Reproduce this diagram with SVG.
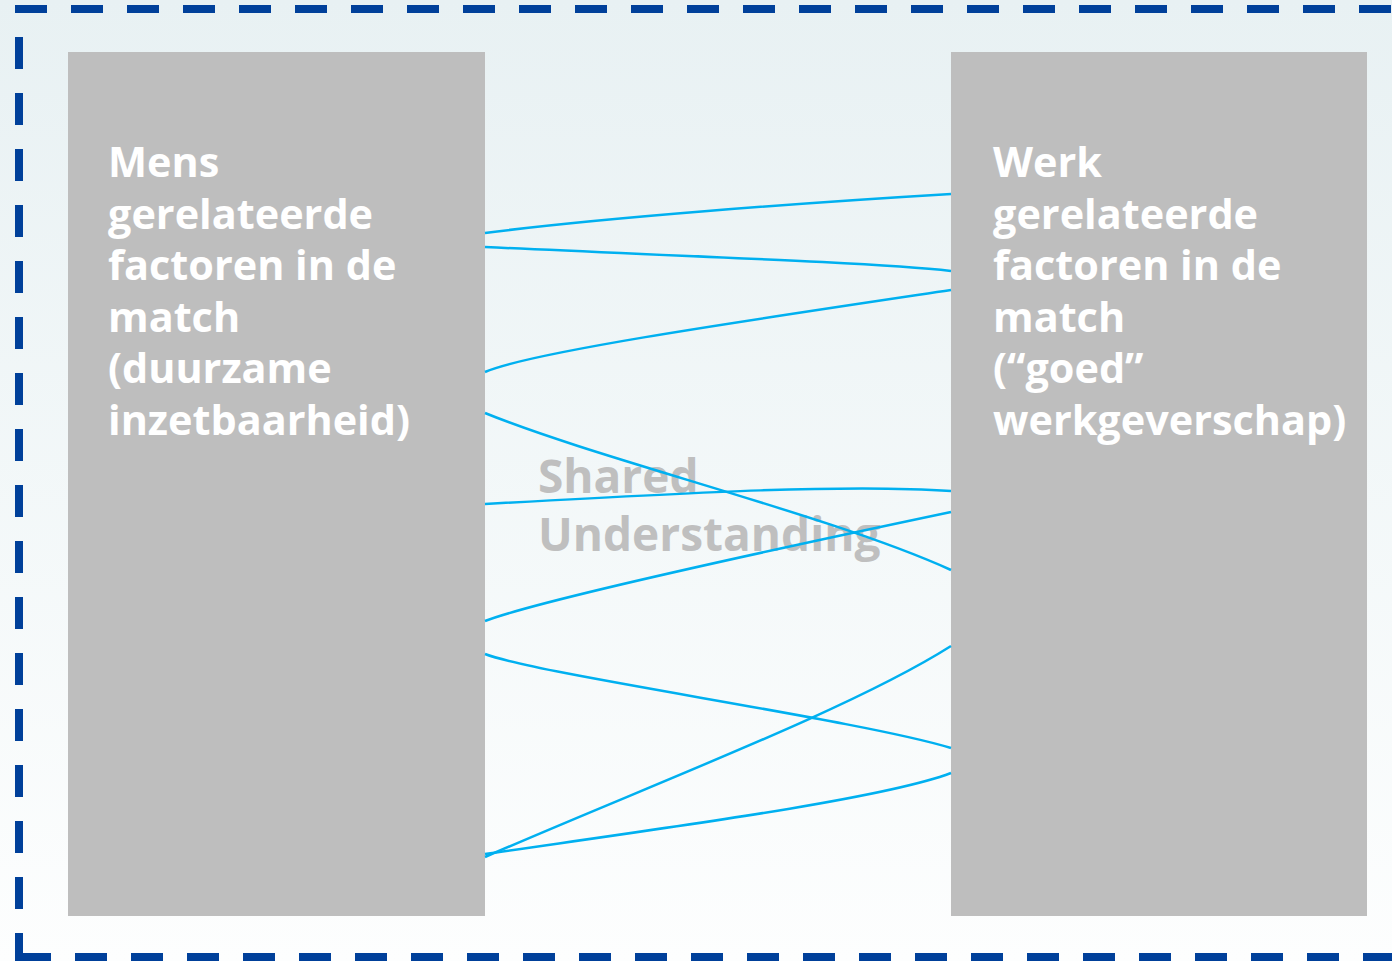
<svg xmlns="http://www.w3.org/2000/svg" width="1392" height="961" viewBox="0 0 1392 961">
  <defs>
    <linearGradient id="bg" x1="0" y1="0" x2="0" y2="1">
      <stop offset="0" stop-color="#E8F1F3"/>
      <stop offset="1" stop-color="#FDFEFE"/>
    </linearGradient>
    <style>
      .frame { stroke: #00409A; stroke-width: 8; fill: none; stroke-dasharray: 32 24; }
      .box { fill: #BEBEBE; }
      .label { font-family: "Open Sans", "Liberation Sans", sans-serif; font-weight: 700; font-size: 41.4px; fill: #FFFFFF; }
      .center { font-family: "Open Sans", "Liberation Sans", sans-serif; font-weight: 700; font-size: 46px; fill: #BFBFBF; }
      .link { fill: none; stroke: #00B0F0; stroke-width: 2.5; }
    </style>
  </defs>

  <!-- background -->
  <rect x="0" y="0" width="1392" height="961" fill="url(#bg)"/>

  <!-- dashed frame -->
  <g id="frame">
    <line class="frame" x1="15" y1="9" x2="1400" y2="9"/>
    <line class="frame" x1="19" y1="37" x2="19" y2="961"/>
    <line class="frame" x1="19" y1="957" x2="1400" y2="957"/>
  </g>

  <!-- left node -->
  <g id="node-mens">
    <rect class="box" x="68" y="52" width="417" height="864"/>
    <text class="label" x="108" y="177">
      <tspan x="108" y="177">Mens</tspan>
      <tspan x="108" y="228.5">gerelateerde</tspan>
      <tspan x="108" y="280">factoren in de</tspan>
      <tspan x="108" y="331.5">match</tspan>
      <tspan x="108" y="383">(duurzame</tspan>
      <tspan x="108" y="434.5">inzetbaarheid)</tspan>
    </text>
  </g>

  <!-- right node -->
  <g id="node-werk">
    <rect class="box" x="951" y="52" width="416" height="864"/>
    <text class="label" x="993" y="177">
      <tspan x="993" y="177">Werk</tspan>
      <tspan x="993" y="228.5">gerelateerde</tspan>
      <tspan x="993" y="280">factoren in de</tspan>
      <tspan x="993" y="331.5">match</tspan>
      <tspan x="993" y="383">(“goed”</tspan>
      <tspan x="993" y="434.5">werkgeverschap)</tspan>
    </text>
  </g>

  <!-- middle caption -->
  <g id="shared-understanding">
    <text class="center" x="538" y="493">Shared</text>
    <text class="center" x="538" y="551">Understanding</text>
  </g>

  <!-- connectors between the two nodes -->
  <g id="connectors">
    <path class="link" d="M485,233 C600,218 800,203 951,194"/>
    <path class="link" d="M485,247 C650,255 870,262 951,271"/>
    <path class="link" d="M485,372 C530,352 750,320 951,290"/>
    <path class="link" d="M485,413 C600,460 830,515 951,570"/>
    <path class="link" d="M485,504 C700,492 850,484 951,491"/>
    <path class="link" d="M485,621 C540,600 780,548 951,512"/>
    <path class="link" d="M485,654 C540,675 860,720 951,748"/>
    <path class="link" d="M485,857 C650,785 850,710 951,646"/>
    <path class="link" d="M485,854 C650,830 880,800 951,773"/>
  </g>
</svg>
